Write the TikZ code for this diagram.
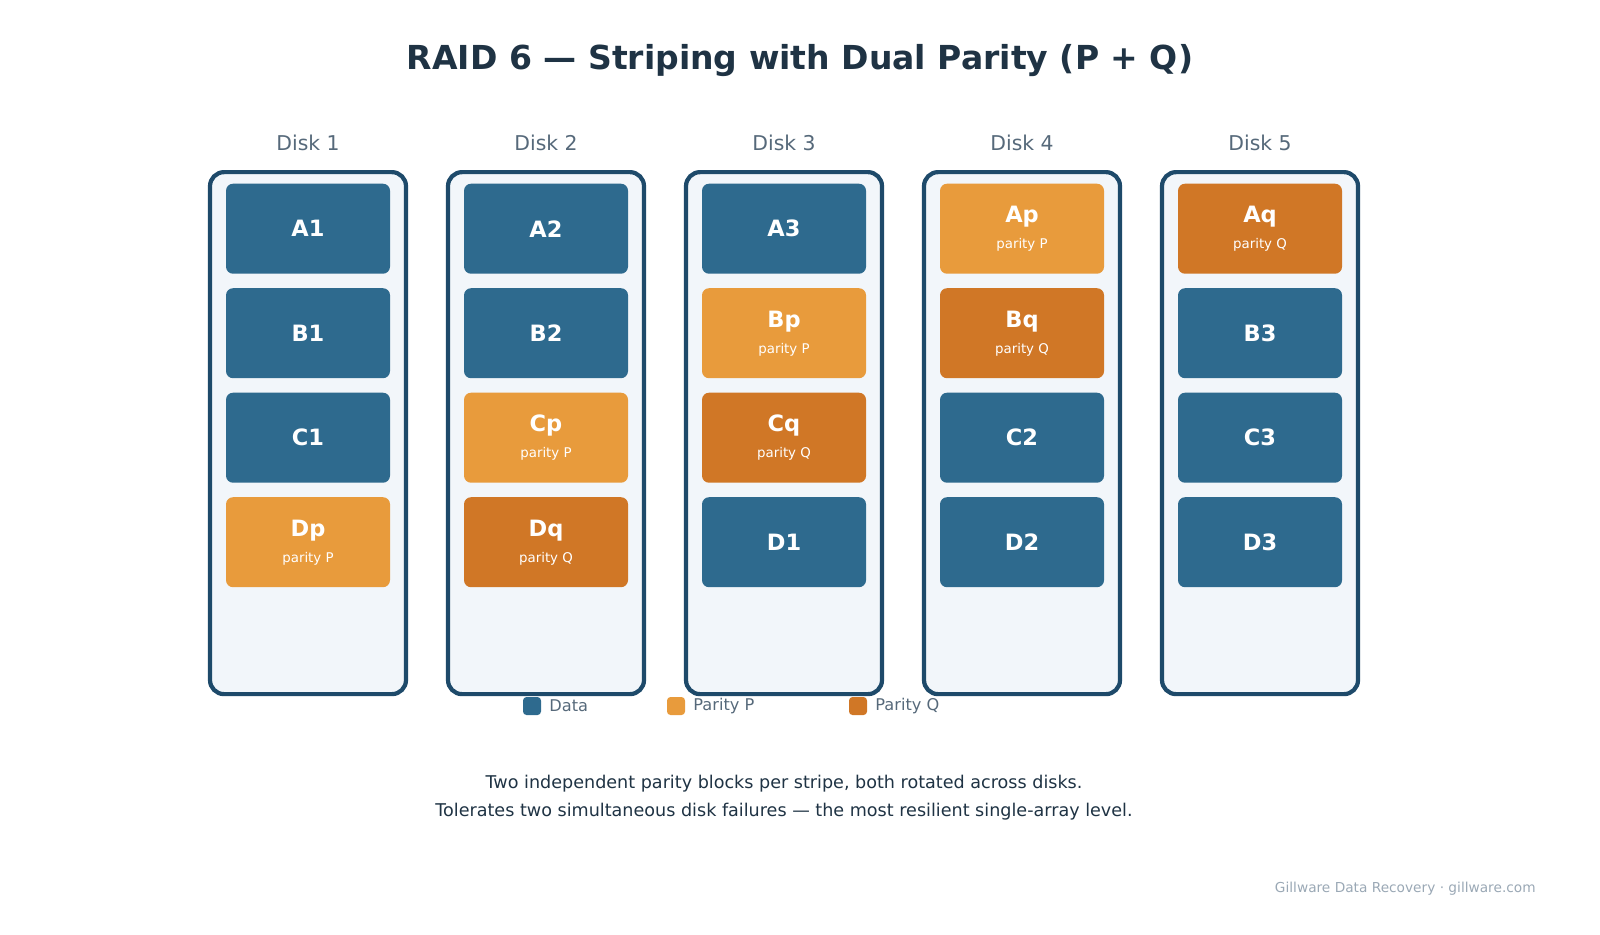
\documentclass[tikz,border=0pt]{standalone}
\usepackage{fontspec}
\setmainfont{DejaVu Sans}
\usetikzlibrary{positioning}
\definecolor{datac}{HTML}{2E6A8E}
\definecolor{parp}{HTML}{E89B3C}
\definecolor{parq}{HTML}{D07726}
\definecolor{diskline}{HTML}{1E4A6A}
\definecolor{diskfill}{HTML}{F2F6FA}
\definecolor{titlec}{HTML}{1F3344}
\definecolor{labelc}{HTML}{56697A}
\definecolor{footc}{HTML}{9AA8B5}
\newcommand{\blkname}{\fontsize{6.4}{7.2}\selectfont\bfseries}
\newcommand{\blksub}{\fontsize{3.8}{4}\selectfont\mdseries}
\tikzset{
  disk/.style={draw=diskline, line width=1.2pt, fill=diskfill, rounded corners=4pt, minimum width=1.96cm, minimum height=5.22cm, anchor=north},
  blk/.style={rounded corners=2pt, minimum width=1.64cm, minimum height=0.9cm, anchor=north, text=white, inner sep=0pt, align=center, font=\blkname},
  D/.style={blk, fill=datac},
  P/.style={blk, fill=parp},
  Q/.style={blk, fill=parq},
  key/.style={minimum size=0.18cm, inner sep=0pt, rounded corners=1pt},
  keytext/.style={text=labelc, font=\fontsize{4.6}{5}\selectfont, inner sep=0.02cm}
}
\begin{document}
\begin{tikzpicture}
  \useasboundingbox (0,0) rectangle (16,-9.34);
  \node (title) [text=titlec, font=\fontsize{9.4}{11}\selectfont\bfseries] at (8,-0.6) {RAID 6 — Striping with Dual Parity (P + Q)};
  % disks
  \foreach \i/\x in {1/3.08,2/5.46,3/7.84,4/10.22,5/12.60} {
    \node (disk\i) [disk] at (\x,-1.70) {};
    \node (lab\i) [text=labelc, font=\fontsize{5.8}{6}\selectfont] at (\x,-1.43) {Disk \i};
  }
  % blocks: disk/row/style/label
  \foreach \i/\r/\s/\t in {1/1/D/A1,1/2/D/B1,1/3/D/C1,1/4/P/Dp,
                           2/1/D/A2,2/2/D/B2,2/3/P/Cp,2/4/Q/Dq,
                           3/1/D/A3,3/2/P/Bp,3/3/Q/Cq,3/4/D/D1,
                           4/1/P/Ap,4/2/Q/Bq,4/3/D/C2,4/4/D/D2,
                           5/1/Q/Aq,5/2/D/B3,5/3/D/C3,5/4/D/D3} {
    \if\s D
      \node (b\i\r) [\s] at ([yshift={-0.13cm-(\r-1)*1.045cm}]disk\i.north) {\t};
    \else
      \node (b\i\r) [\s] at ([yshift={-0.13cm-(\r-1)*1.045cm}]disk\i.north)
        {\t\\[0.2pt]{\blksub parity \s}};
    \fi
  }
  % legend
  \node (kd) [key, fill=datac] at (5.32,-7.06) {};
  \node (kdt) [keytext, right=0.05cm of kd] {Data};
  \node (kp) [key, fill=parp] at (6.76,-7.06) {};
  \node (kpt) [keytext, right=0.05cm of kp] {Parity P};
  \node (kq) [key, fill=parq] at (8.58,-7.06) {};
  \node (kqt) [keytext, right=0.05cm of kq] {Parity Q};
  % caption
  \node (cap) [text=titlec, font=\fontsize{5}{8}\selectfont, align=center] at (7.84,-7.98)
    {Two independent parity blocks per stripe, both rotated across disks.\\Tolerates two simultaneous disk failures — the most resilient single-array level.};
  \node (foot) [text=footc, font=\fontsize{3.9}{4}\selectfont, anchor=east] at (15.48,-8.89) {Gillware Data Recovery · gillware.com};
\end{tikzpicture}
\end{document}
